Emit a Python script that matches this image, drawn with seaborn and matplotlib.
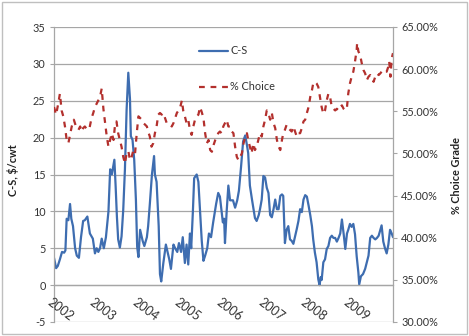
import numpy as np
import pandas as pd
import matplotlib
matplotlib.use("Agg")
import matplotlib.pyplot as plt
import matplotlib.transforms as mtransforms
import seaborn as sns
from matplotlib.patches import Rectangle
from matplotlib.lines import Line2D

# ---------------- data ----------------
cs_time = [2002.00, 2002.05, 2002.09, 2002.14, 2002.19, 2002.24, 2002.27, 2002.30, 2002.34, 2002.38,
           2002.41, 2002.45, 2002.50, 2002.54, 2002.59, 2002.64, 2002.69, 2002.73, 2002.79, 2002.85,
           2002.92, 2002.97, 2003.01, 2003.05, 2003.09, 2003.13, 2003.16, 2003.18, 2003.23, 2003.29,
           2003.33, 2003.37, 2003.43, 2003.46, 2003.49, 2003.52, 2003.56, 2003.60, 2003.64, 2003.68,
           2003.72, 2003.76, 2003.80, 2003.82, 2003.86, 2003.90, 2003.94, 2003.97, 2004.00, 2004.04,
           2004.10, 2004.14, 2004.20, 2004.23, 2004.27, 2004.32, 2004.37, 2004.39, 2004.43, 2004.48,
           2004.51, 2004.54, 2004.59, 2004.65, 2004.69, 2004.73, 2004.77, 2004.83, 2004.87, 2004.92,
           2004.96, 2005.01, 2005.05, 2005.10, 2005.14, 2005.18, 2005.22, 2005.25, 2005.29, 2005.32,
           2005.38, 2005.42, 2005.46, 2005.50, 2005.54, 2005.58, 2005.63, 2005.67, 2005.72, 2005.77,
           2005.84, 2005.89, 2005.93, 2005.97, 2006.00, 2006.03, 2006.05, 2006.09, 2006.13, 2006.17,
           2006.24, 2006.29, 2006.34, 2006.38, 2006.43, 2006.48, 2006.53, 2006.57, 2006.60, 2006.64,
           2006.69, 2006.76, 2006.80, 2006.85, 2006.88, 2006.92, 2006.96, 2007.00, 2007.04, 2007.08,
           2007.12, 2007.16, 2007.20, 2007.24, 2007.28, 2007.32, 2007.36, 2007.40, 2007.43, 2007.47,
           2007.51, 2007.55, 2007.59, 2007.63, 2007.67, 2007.75, 2007.79, 2007.83, 2007.87, 2007.91,
           2007.95, 2007.99, 2008.03, 2008.07, 2008.11, 2008.14, 2008.18, 2008.22, 2008.26, 2008.29,
           2008.32, 2008.34, 2008.38, 2008.42, 2008.46, 2008.50, 2008.54, 2008.58, 2008.62, 2008.66,
           2008.70, 2008.74, 2008.78, 2008.82, 2008.86, 2008.90, 2008.94, 2008.97, 2009.01, 2009.05,
           2009.09, 2009.13, 2009.17, 2009.21, 2009.23, 2009.27, 2009.32, 2009.37, 2009.41, 2009.45,
           2009.49, 2009.53, 2009.57, 2009.61, 2009.65, 2009.69, 2009.73, 2009.76, 2009.80, 2009.84,
           2009.88, 2009.92, 2009.96, 2010.00, 2010.03]
cs_values = [3.7, 2.3, 2.6, 3.5, 4.5, 4.4, 4.7, 9.0, 8.8, 11.0,
             9.0, 8.0, 5.0, 4.0, 3.7, 6.5, 8.7, 8.8, 9.3, 7.0,
             6.3, 4.3, 5.0, 4.5, 5.0, 6.3, 5.5, 5.0, 6.5, 10.0,
             15.7, 15.0, 17.0, 13.4, 9.3, 6.2, 5.1, 6.6, 10.2, 15.7,
             23.8, 28.8, 25.2, 20.2, 19.7, 17.0, 11.6, 5.2, 3.8, 7.5,
             6.0, 5.3, 6.5, 8.0, 11.0, 15.0, 17.5, 15.0, 14.0, 8.0,
             1.5, 0.5, 3.0, 5.5, 4.5, 3.5, 2.2, 5.5, 5.0, 4.5,
             5.7, 4.5, 6.5, 3.0, 5.5, 2.8, 7.0, 5.0, 10.0, 14.5,
             15.0, 14.0, 10.0, 6.0, 3.3, 4.0, 5.0, 7.0, 6.5, 8.5,
             11.0, 12.5, 12.0, 10.0, 8.5, 9.0, 5.7, 10.0, 13.5, 11.5,
             11.5, 10.5, 11.5, 12.8, 16.0, 19.5, 20.3, 19.0, 17.9, 13.5,
             11.6, 9.1, 8.7, 9.5, 10.3, 11.6, 14.8, 14.6, 13.2, 12.5,
             9.5, 9.2, 10.3, 11.6, 10.3, 10.3, 12.1, 12.3, 12.1, 5.7,
             7.5, 8.0, 6.2, 6.0, 5.6, 7.6, 8.7, 10.3, 9.9, 11.6,
             12.2, 12.0, 10.8, 9.5, 8.0, 6.2, 4.4, 3.1, 0.8, 0.0,
             1.1, 0.7, 3.1, 3.5, 4.9, 5.3, 6.4, 6.7, 6.4, 6.4,
             5.9, 6.4, 7.0, 8.9, 7.0, 4.9, 7.0, 7.5, 8.3, 7.9,
             8.3, 6.9, 3.9, 1.7, 0.1, 1.2, 1.5, 2.2, 3.1, 4.0,
             6.4, 6.7, 6.4, 6.2, 6.4, 6.7, 7.5, 8.1, 5.9, 5.0,
             4.3, 5.5, 7.5, 7.0, 6.5]

choice_time = [2002.00, 2002.05, 2002.10, 2002.14, 2002.18, 2002.22, 2002.26, 2002.30, 2002.34, 2002.38,
               2002.42, 2002.47, 2002.52, 2002.58, 2002.62, 2002.66, 2002.69, 2002.73, 2002.79, 2002.84,
               2002.89, 2002.93, 2002.97, 2003.01, 2003.05, 2003.09, 2003.13, 2003.17, 2003.21, 2003.25,
               2003.29, 2003.33, 2003.37, 2003.41, 2003.45, 2003.48, 2003.52, 2003.56, 2003.60, 2003.64,
               2003.68, 2003.72, 2003.76, 2003.80, 2003.84, 2003.88, 2003.92, 2003.96, 2004.00, 2004.04,
               2004.08, 2004.12, 2004.16, 2004.20, 2004.23, 2004.27, 2004.31, 2004.35, 2004.39, 2004.43,
               2004.47, 2004.51, 2004.55, 2004.59, 2004.63, 2004.67, 2004.71, 2004.75, 2004.79, 2004.83,
               2004.87, 2004.91, 2004.95, 2004.99, 2005.03, 2005.06, 2005.10, 2005.14, 2005.18, 2005.22,
               2005.26, 2005.30, 2005.34, 2005.38, 2005.42, 2005.46, 2005.50, 2005.54, 2005.58, 2005.62,
               2005.66, 2005.70, 2005.74, 2005.78, 2005.82, 2005.86, 2005.89, 2005.93, 2005.97, 2006.01,
               2006.05, 2006.09, 2006.13, 2006.17, 2006.21, 2006.25, 2006.29, 2006.33, 2006.37, 2006.41,
               2006.45, 2006.49, 2006.53, 2006.57, 2006.60, 2006.64, 2006.68, 2006.72, 2006.76, 2006.80,
               2006.84, 2006.88, 2006.92, 2006.96, 2007.00, 2007.04, 2007.08, 2007.12, 2007.16, 2007.20,
               2007.24, 2007.28, 2007.32, 2007.36, 2007.40, 2007.43, 2007.47, 2007.51, 2007.55, 2007.59,
               2007.63, 2007.67, 2007.71, 2007.75, 2007.79, 2007.83, 2007.87, 2007.91, 2007.95, 2007.99,
               2008.03, 2008.07, 2008.11, 2008.14, 2008.18, 2008.22, 2008.26, 2008.30, 2008.34, 2008.38,
               2008.42, 2008.46, 2008.50, 2008.54, 2008.58, 2008.62, 2008.66, 2008.70, 2008.74, 2008.78,
               2008.82, 2008.86, 2008.90, 2008.94, 2008.97, 2009.01, 2009.05, 2009.09, 2009.13, 2009.17,
               2009.18, 2009.21, 2009.25, 2009.29, 2009.33, 2009.37, 2009.41, 2009.45, 2009.49, 2009.53,
               2009.57, 2009.61, 2009.65, 2009.69, 2009.73, 2009.76, 2009.80, 2009.84, 2009.88, 2009.92,
               2009.94, 2009.97, 2010.00, 2010.03]
choice_values = [55.5, 54.6, 55.9, 57.1, 55.1, 54.4, 53.2, 51.6, 51.2, 52.2,
                 53.2, 54.0, 53.2, 52.8, 53.2, 52.6, 53.0, 53.2, 52.8, 53.0,
                 54.2, 54.8, 55.5, 55.9, 56.3, 56.7, 57.7, 55.3, 53.6, 52.0,
                 50.8, 51.6, 52.4, 51.6, 53.6, 53.8, 52.4, 51.6, 50.8, 49.6,
                 48.8, 50.0, 50.3, 49.2, 49.6, 50.4, 50.0, 52.4, 54.4, 54.2,
                 54.0, 53.6, 53.4, 53.2, 52.6, 52.0, 50.8, 51.2, 52.4, 53.2,
                 54.6, 54.8, 54.6, 54.8, 54.2, 53.6, 53.4, 53.4, 53.2, 53.6,
                 54.2, 54.8, 55.1, 55.5, 56.3, 55.1, 54.4, 53.6, 54.0, 52.8,
                 52.2, 53.2, 54.0, 54.4, 54.6, 55.5, 54.9, 54.2, 52.4, 51.2,
                 51.6, 50.4, 50.2, 51.0, 51.6, 52.0, 52.4, 52.6, 52.4, 53.2,
                 53.6, 54.0, 53.2, 53.2, 52.6, 52.4, 50.8, 49.6, 49.2, 49.6,
                 50.0, 51.2, 52.0, 52.4, 51.6, 50.8, 50.0, 51.2, 50.4, 50.8,
                 51.6, 52.4, 52.0, 53.2, 54.0, 55.1, 54.8, 54.0, 54.8, 53.6,
                 53.0, 51.6, 50.8, 50.4, 51.6, 52.4, 52.8, 53.4, 53.0, 52.8,
                 52.6, 53.2, 52.6, 52.0, 52.4, 52.4, 53.0, 53.8, 54.0, 54.8,
                 55.5, 56.7, 57.5, 58.3, 58.5, 58.3, 57.9, 56.7, 55.5, 54.7,
                 55.1, 56.3, 57.1, 56.7, 55.5, 55.3, 55.1, 55.3, 55.1, 55.5,
                 55.7, 55.3, 55.1, 55.5, 57.1, 58.3, 59.1, 59.7, 60.9, 62.3,
                 63.1, 62.1, 61.7, 60.7, 59.9, 59.5, 58.7, 59.1, 59.3, 58.9,
                 58.5, 59.1, 59.5, 59.3, 59.5, 59.7, 59.5, 59.7, 59.7, 60.3,
                 60.9, 59.1, 61.3, 61.9]

year_ticks = [2002, 2003, 2004, 2005, 2006, 2007, 2008, 2009]
year_labels = ["2002", "2003", "2004", "2005", "2006", "2007", "2008", "2009"]
left_ticks = [-5, 0, 5, 10, 15, 20, 25, 30, 35]
right_ticks = [30, 35, 40, 45, 50, 55, 60, 65]

# ---------------- style ----------------
sns.set_theme(style="white")
plt.rcParams["font.family"] = ["Lato", "DejaVu Sans"]
BLUE = "#3E6DB0"
RED = "#B3302D"
GRID = "#A6A6A6"
TXT = "#333333"
FS = 7.8

W, H = 469, 336
fig = plt.figure(figsize=(W / 100, H / 100), dpi=100)
fig.patch.set_facecolor("white")
ax = fig.add_axes([54 / W, 1 - 322 / H, (393 - 54) / W, (322 - 27) / H])
ax2 = ax.twinx()

cs_df = pd.DataFrame({"t": cs_time, "v": cs_values})
ch_df = pd.DataFrame({"t": choice_time, "v": choice_values})

sns.lineplot(data=cs_df, x="t", y="v", ax=ax, color=BLUE, linewidth=1.6,
             estimator=None, legend=False)
sns.lineplot(data=ch_df, x="t", y="v", ax=ax2, color=RED, linewidth=1.6,
             estimator=None, legend=False)
ax2.lines[0].set_dashes([2.6, 2.6])

# spines first (set_position resets ticks)
for s in ["top", "right"]:
    ax.spines[s].set_visible(False)
ax.spines["left"].set_color(GRID)
ax.spines["left"].set_linewidth(0.9)
ax.spines["bottom"].set_position(("data", 0))
ax.spines["bottom"].set_color(GRID)
ax.spines["bottom"].set_linewidth(0.9)
for s in ["top", "left", "bottom"]:
    ax2.spines[s].set_visible(False)
ax2.spines["right"].set_color(GRID)
ax2.spines["right"].set_linewidth(0.9)

ax.set_xlim(2002, 2010.03)
ax.set_ylim(-5, 35)
ax2.set_ylim(30, 65)

ax.set_yticks(left_ticks)
ax.set_yticklabels([str(v) for v in left_ticks])
ax2.set_yticks(right_ticks)
ax2.set_yticklabels([f"{v:.2f}%" for v in right_ticks])

ax.set_xticks(year_ticks)
ax.tick_params(axis="x", length=0, labelbottom=False)
ax.tick_params(axis="y", length=3, width=0.8, color=GRID, pad=3, labelsize=FS, labelcolor=TXT)
ax2.tick_params(axis="y", length=3, width=0.8, color=GRID, pad=3, labelsize=FS, labelcolor=TXT)

# slanted year labels hanging below the zero line
offset = mtransforms.ScaledTranslation(-1.5 / 100, -11 / 100, fig.dpi_scale_trans)
for yr, lab in zip(year_ticks, year_labels):
    ax.text(yr, 0, lab, transform=ax.transData + offset, rotation=-37,
            ha="left", va="top", rotation_mode="anchor", fontsize=9.0, color=TXT,
            clip_on=False)

ax.grid(False)
ax2.grid(False)
for v in left_ticks:
    ax.axhline(v, color=GRID, linewidth=0.9, zorder=0)

ax.set_xlabel("")
ax.set_ylabel("")
ax2.set_xlabel("")
ax2.set_ylabel("")

fig.text(13 / W, 1 - 170 / H, "C-S, $/cwt", rotation=90, ha="center", va="center",
         fontsize=FS, fontweight="bold", color="#222222")
fig.text(456 / W, 1 - 175 / H, "% Choice Grade", rotation=90, ha="center", va="center",
         fontsize=FS, fontweight="bold", color="#222222")

handles = [Line2D([], [], color=BLUE, linewidth=1.6),
           Line2D([], [], color=RED, linewidth=1.6, dashes=[2.6, 2.6])]
fig.legend(handles, ["C-S", "% Choice"], loc="upper left",
           bbox_to_anchor=(194 / W, 1 - 40 / H), frameon=False, fontsize=FS,
           labelspacing=2.3, handlelength=2.6, handletextpad=0.25, borderpad=0,
           labelcolor=TXT)

fig.patches.append(Rectangle((2 / W, 2 / H), 1 - 4 / W, 1 - 4 / H, transform=fig.transFigure,
                             fill=False, edgecolor="#BFBFBF", linewidth=1.0))

fig.savefig("out.png", dpi=100)
